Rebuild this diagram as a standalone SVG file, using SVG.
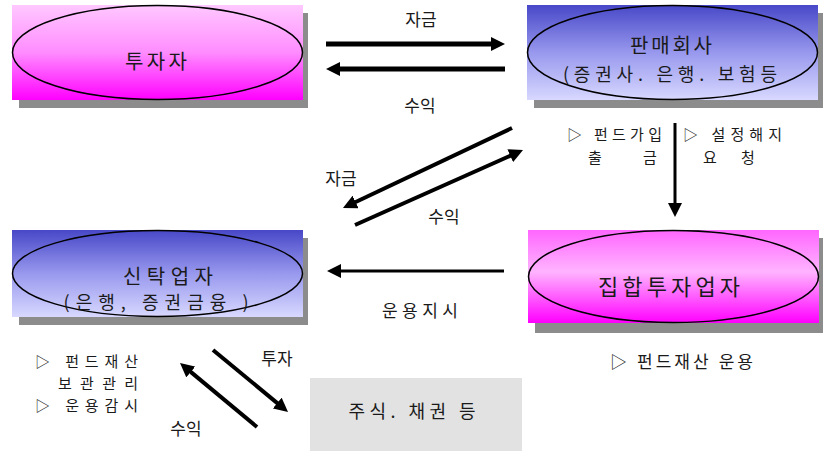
<svg xmlns="http://www.w3.org/2000/svg" width="824" height="451" viewBox="0 0 824 451">
<defs>
<linearGradient id="gPink" x1="0" y1="0" x2="0" y2="1">
<stop offset="0" stop-color="#ffc8ff"/><stop offset="0.5" stop-color="#ff8cff"/><stop offset="1" stop-color="#ff00ff"/>
</linearGradient>
<linearGradient id="gPink2" x1="0" y1="0" x2="0" y2="1">
<stop offset="0" stop-color="#ff66ff"/><stop offset="0.45" stop-color="#ffb4ff"/><stop offset="1" stop-color="#ff00ff"/>
</linearGradient>
<linearGradient id="gBlue" x1="0" y1="0" x2="0" y2="1">
<stop offset="0" stop-color="#4848c8"/><stop offset="0.5" stop-color="#9898ee"/><stop offset="1" stop-color="#d8d8ff"/>
</linearGradient>
<marker id="ah" markerUnits="userSpaceOnUse" markerWidth="14" markerHeight="14" viewBox="0 0 14 14" refX="4" refY="7" orient="auto">
<path d="M0,0 L14,7 L0,14 Z" fill="#000"/>
</marker>
<style>
.sh{fill:#8c8c8c}
.el{fill:none;stroke:#000;stroke-width:1.5}
text{font-family:"Noto Sans CJK KR","Noto Sans",sans-serif;fill:#1a1a1a}
.big{font-size:20px}
.mid{font-size:18px}
.lab{font-size:17px}
.sm{font-size:15px}
.c{text-anchor:middle;dominant-baseline:central}
.s{dominant-baseline:central}
.ar{stroke:#000;fill:none;marker-end:url(#ah)}
</style>
</defs>

<g id="investor">
<rect class="sh" x="19" y="13" width="289" height="95"/>
<rect x="12" y="5" width="291" height="95" fill="url(#gPink)"/>
<ellipse class="el" cx="157.5" cy="52.5" rx="145" ry="47"/>
<text class="big c" x="156" y="60" textLength="62" lengthAdjust="spacing">투자자</text>
</g>

<g id="seller">
<rect class="sh" x="534" y="13" width="289" height="95"/>
<rect x="527" y="5" width="291" height="95" fill="url(#gBlue)"/>
<ellipse class="el" cx="672.5" cy="52.5" rx="145" ry="47"/>
<text class="big c" x="671" y="44" textLength="82" lengthAdjust="spacing">판매회사</text>
<text class="mid c" x="670" y="73" textLength="214" lengthAdjust="spacing">(증권사. 은행. 보험등</text>
</g>

<g id="trustee">
<rect class="sh" x="19" y="238" width="289" height="87"/>
<rect x="12" y="230" width="291" height="87" fill="url(#gBlue)"/>
<ellipse class="el" cx="157.5" cy="273.5" rx="145" ry="43"/>
<text class="big c" x="168" y="275" textLength="90" lengthAdjust="spacing">신탁업자</text>
<text class="mid c" x="156" y="301" textLength="185" lengthAdjust="spacing">(은행, 증권금융 )</text>
</g>

<g id="manager">
<rect class="sh" x="535" y="238" width="288" height="95"/>
<rect x="528" y="230" width="291" height="93" fill="url(#gPink2)"/>
<ellipse class="el" cx="673.5" cy="276.5" rx="145" ry="46"/>
<text class="big c" x="669" y="285" style="font-size:22px" textLength="142" lengthAdjust="spacing">집합투자업자</text>
</g>

<g id="securities">
<rect x="310" y="378" width="212" height="73" fill="#e2e2e2"/>
<text class="mid c" x="412" y="410" textLength="127" lengthAdjust="spacing">주식. 채권 등</text>
</g>

<g id="connectors">
<line class="ar" x1="326" y1="44" x2="495" y2="44" stroke-width="5"/>
<line class="ar" x1="505" y1="69" x2="336" y2="69" stroke-width="5"/>
<line class="ar" x1="512" y1="128" x2="352" y2="203.7" stroke-width="4"/>
<line class="ar" x1="355" y1="225" x2="513.9" y2="154.1" stroke-width="4"/>
<line class="ar" x1="675" y1="123" x2="675" y2="207" stroke-width="3"/>
<line class="ar" x1="504" y1="271" x2="337" y2="271" stroke-width="3"/>
<line class="ar" x1="213" y1="350" x2="280.3" y2="405.6" stroke-width="4"/>
<line class="ar" x1="257" y1="427" x2="187.7" y2="369.4" stroke-width="4"/>
</g>

<g id="labels">
<text class="lab c" x="421" y="18">자금</text>
<text class="lab c" x="420" y="104">수익</text>
<text class="lab c" x="341" y="177">자금</text>
<text class="lab c" x="444" y="215">수익</text>
<text class="lab c" x="420" y="309" textLength="76" lengthAdjust="spacing">운용지시</text>
<text class="sm s" x="567" y="133" textLength="95" lengthAdjust="spacing">▷ 펀드가입</text>
<text class="sm c" x="595" y="156">출</text>
<text class="sm c" x="650" y="156">금</text>
<text class="sm s" x="683" y="133" textLength="99" lengthAdjust="spacing">▷ 설정해지</text>
<text class="sm c" x="710" y="156">요</text>
<text class="sm c" x="748" y="156">청</text>
<text class="lab s" x="610" y="360" textLength="143" lengthAdjust="spacing">▷ 펀드재산 운용</text>
<text class="sm s" x="35" y="360" textLength="103" lengthAdjust="spacing">▷ 펀드재산</text>
<text class="sm s" x="58" y="382" textLength="80" lengthAdjust="spacing">보관관리</text>
<text class="sm s" x="35" y="404" textLength="103" lengthAdjust="spacing">▷ 운용감시</text>
<text class="lab c" x="277" y="357">투자</text>
<text class="lab c" x="186" y="427">수익</text>
</g>
</svg>
